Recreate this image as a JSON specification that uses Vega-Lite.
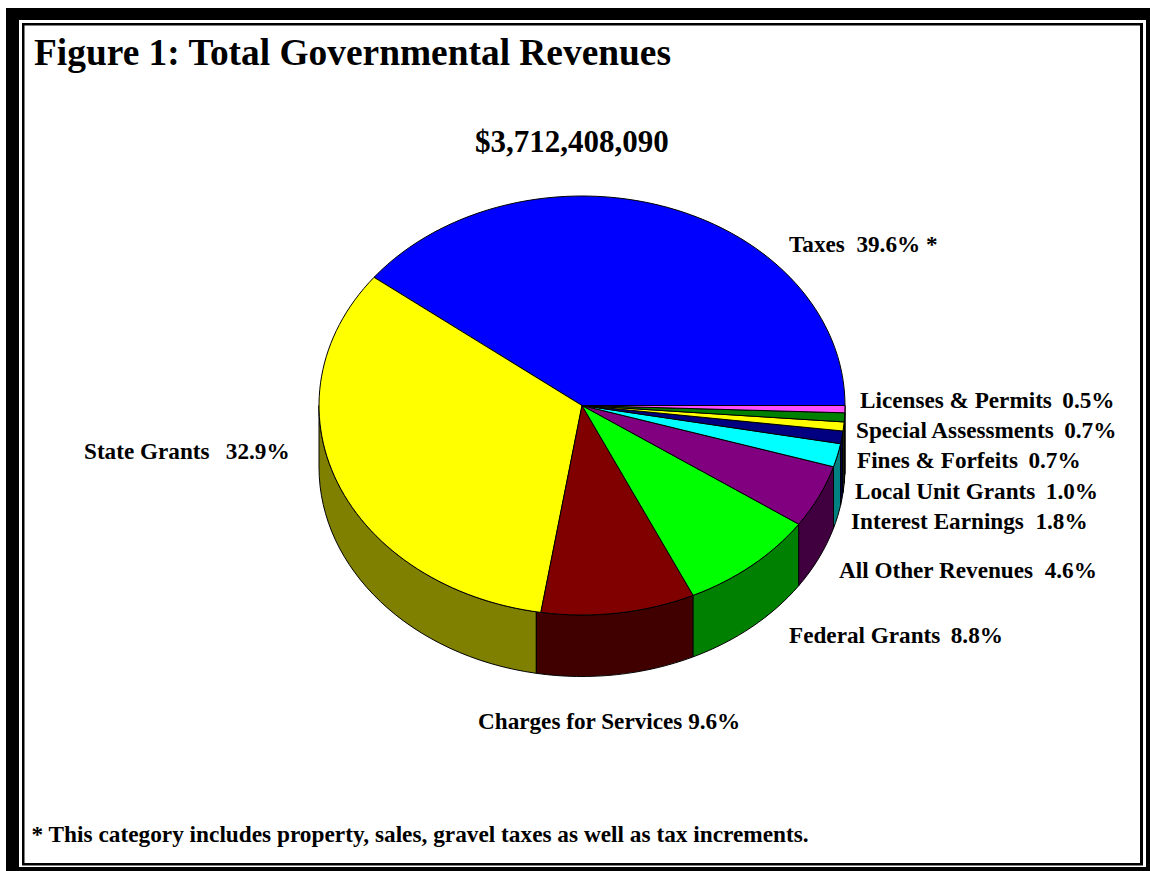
{"$schema":"https://vega.github.io/schema/vega-lite/v6.json","width":1150,"height":871,"padding":0,"autosize":{"type":"none"},"background":"white","title":{"text":"Figure 1: Total Governmental Revenues","anchor":"start","frame":"group","offset":0,"dx":34,"dy":102,"baseline":"alphabetic","font":"Liberation Serif","fontSize":37.4,"fontWeight":"bold","color":"black"},"config":{"axis":{"disable":true},"view":{"stroke":null},"text":{"align":"left","baseline":"middle","font":"Liberation Serif","fontSize":23.2,"fontWeight":"bold","color":"black"}},"resolve":{"scale":{"x":"independent","y":"independent","color":"independent","shape":"independent"}},"datasets":{"slices":[{"slice":"Taxes","share":39.6,"label":"Taxes\u00a0\u00a039.6%\u00a0*"},{"slice":"State Grants","share":32.9,"label":"State Grants\u00a0\u00a0\u200932.9%"},{"slice":"Charges for Services","share":9.6,"label":"Charges for Services 9.6%"},{"slice":"Federal Grants","share":8.8,"label":"Federal Grants\u00a0\u20098.8%"},{"slice":"All Other Revenues","share":4.6,"label":"All Other Revenues\u00a0\u00a04.6%"},{"slice":"Interest Earnings","share":1.8,"label":"Interest Earnings\u00a0\u00a01.8%"},{"slice":"Local Unit Grants","share":1.0,"label":"Local Unit Grants\u00a0\u20091.0%"},{"slice":"Fines & Forfeits","share":0.7,"label":"Fines & Forfeits\u00a0\u20090.7%"},{"slice":"Special Assessments","share":0.7,"label":"Special Assessments\u00a0\u20090.7%"},{"slice":"Licenses & Permits","share":0.5,"label":"Licenses & Permits\u00a0\u20090.5%"}]},"data":{"name":"slices"},"layer":[{"data":{"values":[{"part":"frame"}]},"mark":{"type":"rect","fill":"black"},"encoding":{"x":{"datum":6,"type":"quantitative","scale":{"domain":[0,1150],"range":[0,1150]}},"x2":{"datum":1150},"y":{"datum":8,"type":"quantitative","scale":{"domain":[0,871],"range":[0,871]}},"y2":{"datum":871}}},{"data":{"values":[{"part":"frame"}]},"mark":{"type":"rect","fill":"white"},"encoding":{"x":{"datum":19,"type":"quantitative","scale":{"domain":[0,1150],"range":[0,1150]}},"x2":{"datum":1146},"y":{"datum":20,"type":"quantitative","scale":{"domain":[0,871],"range":[0,871]}},"y2":{"datum":867}}},{"data":{"values":[{"part":"frame"}]},"mark":{"type":"rect","fill":"black"},"encoding":{"x":{"datum":22,"type":"quantitative","scale":{"domain":[0,1150],"range":[0,1150]}},"x2":{"datum":1143},"y":{"datum":23,"type":"quantitative","scale":{"domain":[0,871],"range":[0,871]}},"y2":{"datum":865.5}}},{"data":{"values":[{"part":"frame"}]},"mark":{"type":"rect","fill":"white"},"encoding":{"x":{"datum":24.5,"type":"quantitative","scale":{"domain":[0,1150],"range":[0,1150]}},"x2":{"datum":1140},"y":{"datum":25.5,"type":"quantitative","scale":{"domain":[0,871],"range":[0,871]}},"y2":{"datum":863}}},{"transform":[{"filter":"datum.slice !== 'Taxes'"}],"mark":{"type":"point","filled":true,"opacity":1,"stroke":"black","strokeWidth":1,"size":4},"encoding":{"x":{"datum":582,"type":"quantitative","scale":{"domain":[0,1150],"range":[0,1150]}},"y":{"datum":405.5,"type":"quantitative","scale":{"domain":[0,871],"range":[0,871]}},"color":{"field":"slice","type":"nominal","legend":null,"scale":{"domain":["State Grants","Charges for Services","Federal Grants","All Other Revenues","Interest Earnings","Local Unit Grants","Fines & Forfeits","Special Assessments","Licenses & Permits"],"range":["#808000","#400000","#008000","#400040","#008080","#000040","#808000","#004000","#800080"]}},"shape":{"field":"slice","type":"nominal","legend":null,"scale":{"domain":["State Grants","Charges for Services","Federal Grants","All Other Revenues","Interest Earnings","Local Unit Grants","Fines & Forfeits","Special Assessments","Licenses & Permits"],"range":["M-45.67,206.32 A263,209.5,0,0,1,-263,0 L-263,61.5 A263,209.5,0,0,0,-45.67,267.82 Z","M111.15,189.87 A263,209.5,0,0,1,-45.67,206.32 L-45.67,267.82 A263,209.5,0,0,0,111.15,251.37 Z","M216.75,118.66 A263,209.5,0,0,1,111.15,189.87 L111.15,251.37 A263,209.5,0,0,0,216.75,180.16 Z","M251.5,61.25 A263,209.5,0,0,1,216.75,118.66 L216.75,180.16 A263,209.5,0,0,0,251.5,122.75 Z","M258.6,38.18 A263,209.5,0,0,1,251.5,61.25 L251.5,122.75 A263,209.5,0,0,0,258.6,99.68 Z","M261.04,25.53 A263,209.5,0,0,1,258.6,38.18 L258.6,99.68 A263,209.5,0,0,0,261.04,87.03 Z","M262.19,16.44 A263,209.5,0,0,1,261.04,25.53 L261.04,87.03 A263,209.5,0,0,0,262.19,77.94 Z","M262.84,7.31 A263,209.5,0,0,1,262.19,16.44 L262.19,77.94 A263,209.5,0,0,0,262.84,68.81 Z","M263,0 A263,209.5,0,0,1,262.84,7.31 L262.84,68.81 A263,209.5,0,0,0,263,61.5 Z"]}}}},{"mark":{"type":"point","filled":true,"opacity":1,"stroke":"black","strokeWidth":1,"size":4},"encoding":{"x":{"datum":582,"type":"quantitative","scale":{"domain":[0,1150],"range":[0,1150]}},"y":{"datum":405.5,"type":"quantitative","scale":{"domain":[0,871],"range":[0,871]}},"color":{"field":"slice","type":"nominal","legend":null,"scale":{"domain":["Taxes","State Grants","Charges for Services","Federal Grants","All Other Revenues","Interest Earnings","Local Unit Grants","Fines & Forfeits","Special Assessments","Licenses & Permits"],"range":["#0000FF","#FFFF00","#800000","#00FF00","#800080","#00FFFF","#000080","#FFFF00","#008000","#FF4DFF"]}},"shape":{"field":"slice","type":"nominal","legend":null,"scale":{"domain":["Taxes","State Grants","Charges for Services","Federal Grants","All Other Revenues","Interest Earnings","Local Unit Grants","Fines & Forfeits","Special Assessments","Licenses & Permits"],"range":["M0,0 L-208,-128.2 A263,209.5,0,0,1,263,0 Z","M0,0 L-41.14,206.92 A263,209.5,0,0,1,-208,-128.2 Z","M0,0 L111.15,189.87 A263,209.5,0,0,1,-41.14,206.92 Z","M0,0 L216.75,118.66 A263,209.5,0,0,1,111.15,189.87 Z","M0,0 L251.5,61.25 A263,209.5,0,0,1,216.75,118.66 Z","M0,0 L258.6,38.18 A263,209.5,0,0,1,251.5,61.25 Z","M0,0 L261.04,25.53 A263,209.5,0,0,1,258.6,38.18 Z","M0,0 L262.19,16.44 A263,209.5,0,0,1,261.04,25.53 Z","M0,0 L262.84,7.31 A263,209.5,0,0,1,262.19,16.44 Z","M0,0 L263,0 A263,209.5,0,0,1,262.84,7.31 Z"]}}}},{"transform":[{"filter":"datum.slice === 'Taxes'"}],"mark":"text","encoding":{"text":{"field":"label","type":"nominal"},"x":{"datum":789,"type":"quantitative","scale":{"domain":[0,1150],"range":[0,1150]}},"y":{"datum":245,"type":"quantitative","scale":{"domain":[0,871],"range":[0,871]}}}},{"transform":[{"filter":"datum.slice === 'State Grants'"}],"mark":"text","encoding":{"text":{"field":"label","type":"nominal"},"x":{"datum":84,"type":"quantitative","scale":{"domain":[0,1150],"range":[0,1150]}},"y":{"datum":452,"type":"quantitative","scale":{"domain":[0,871],"range":[0,871]}}}},{"transform":[{"filter":"datum.slice === 'Charges for Services'"}],"mark":"text","encoding":{"text":{"field":"label","type":"nominal"},"x":{"datum":478,"type":"quantitative","scale":{"domain":[0,1150],"range":[0,1150]}},"y":{"datum":722,"type":"quantitative","scale":{"domain":[0,871],"range":[0,871]}}}},{"transform":[{"filter":"datum.slice === 'Federal Grants'"}],"mark":"text","encoding":{"text":{"field":"label","type":"nominal"},"x":{"datum":789,"type":"quantitative","scale":{"domain":[0,1150],"range":[0,1150]}},"y":{"datum":636,"type":"quantitative","scale":{"domain":[0,871],"range":[0,871]}}}},{"transform":[{"filter":"datum.slice === 'All Other Revenues'"}],"mark":"text","encoding":{"text":{"field":"label","type":"nominal"},"x":{"datum":839,"type":"quantitative","scale":{"domain":[0,1150],"range":[0,1150]}},"y":{"datum":571,"type":"quantitative","scale":{"domain":[0,871],"range":[0,871]}}}},{"transform":[{"filter":"datum.slice === 'Interest Earnings'"}],"mark":"text","encoding":{"text":{"field":"label","type":"nominal"},"x":{"datum":851,"type":"quantitative","scale":{"domain":[0,1150],"range":[0,1150]}},"y":{"datum":522,"type":"quantitative","scale":{"domain":[0,871],"range":[0,871]}}}},{"transform":[{"filter":"datum.slice === 'Local Unit Grants'"}],"mark":"text","encoding":{"text":{"field":"label","type":"nominal"},"x":{"datum":855,"type":"quantitative","scale":{"domain":[0,1150],"range":[0,1150]}},"y":{"datum":492,"type":"quantitative","scale":{"domain":[0,871],"range":[0,871]}}}},{"transform":[{"filter":"datum.slice === 'Fines & Forfeits'"}],"mark":"text","encoding":{"text":{"field":"label","type":"nominal"},"x":{"datum":857,"type":"quantitative","scale":{"domain":[0,1150],"range":[0,1150]}},"y":{"datum":461,"type":"quantitative","scale":{"domain":[0,871],"range":[0,871]}}}},{"transform":[{"filter":"datum.slice === 'Special Assessments'"}],"mark":"text","encoding":{"text":{"field":"label","type":"nominal"},"x":{"datum":856,"type":"quantitative","scale":{"domain":[0,1150],"range":[0,1150]}},"y":{"datum":431,"type":"quantitative","scale":{"domain":[0,871],"range":[0,871]}}}},{"transform":[{"filter":"datum.slice === 'Licenses & Permits'"}],"mark":"text","encoding":{"text":{"field":"label","type":"nominal"},"x":{"datum":860,"type":"quantitative","scale":{"domain":[0,1150],"range":[0,1150]}},"y":{"datum":401,"type":"quantitative","scale":{"domain":[0,871],"range":[0,871]}}}},{"data":{"values":[{"note":"$3,712,408,090"}]},"mark":{"type":"text","fontSize":31},"encoding":{"text":{"field":"note","type":"nominal"},"x":{"datum":475,"type":"quantitative","scale":{"domain":[0,1150],"range":[0,1150]}},"y":{"datum":143,"type":"quantitative","scale":{"domain":[0,871],"range":[0,871]}}}},{"data":{"values":[{"note":"* This category includes property, sales, gravel taxes as well as tax increments."}]},"mark":{"type":"text","fontSize":23.3},"encoding":{"text":{"field":"note","type":"nominal"},"x":{"datum":31.5,"type":"quantitative","scale":{"domain":[0,1150],"range":[0,1150]}},"y":{"datum":834.5,"type":"quantitative","scale":{"domain":[0,871],"range":[0,871]}}}}]}
